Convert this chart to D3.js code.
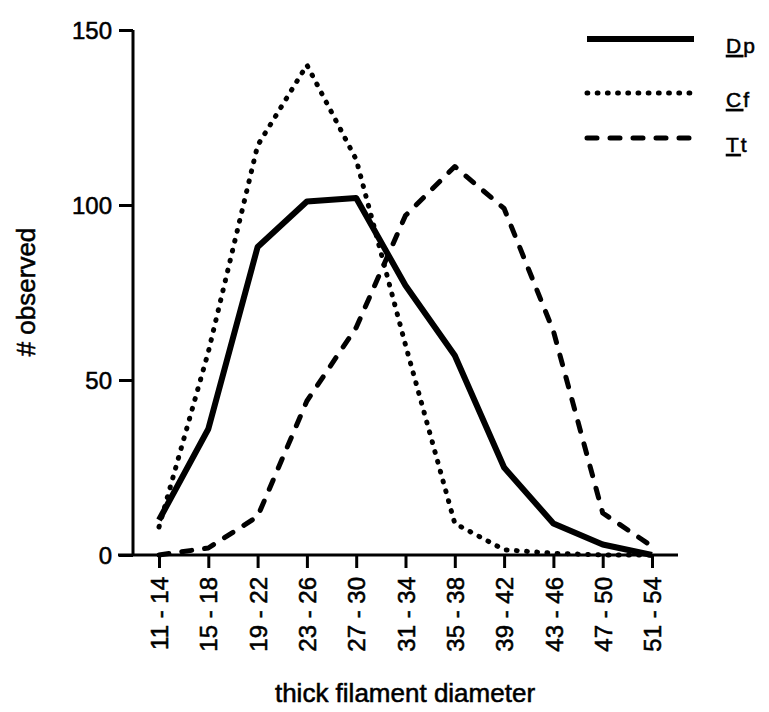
<!DOCTYPE html>
<html>
<head>
<meta charset="utf-8">
<script src="https://cdn.jsdelivr.net/npm/d3@7"></script>
<style>
  html, body { margin: 0; padding: 0; background: #fff; }
  svg { display: block; font-family: "Liberation Sans", Arial, Helvetica, sans-serif; }
  text { fill: #000; stroke: #000; stroke-width: 0.55px; }
</style>
</head>
<body>
<svg id="chart" width="769" height="712"></svg>
<script>
const categories = ["11 - 14","15 - 18","19 - 22","23 - 26","27 - 30","31 - 34","35 - 38","39 - 42","43 - 46","47 - 50","51 - 54"];
const dpValues = [10, 36, 88, 101, 102, 77, 57, 25, 9, 3, 0];
const cfValues = [8, 58, 117, 140, 113, 60, 9, 1.5, 0.5, 0, 0];
const ttValues = [0, 2, 11, 44, 65, 97, 111, 99, 64, 12, 2.5];
const yTicks = [0, 50, 100, 150];
const seriesNames = ["Dp", "Cf", "Tt"];

const series = [
  { name: seriesNames[0], values: dpValues, width: 6,   dash: null,      cap: "butt" },
  { name: seriesNames[1], values: cfValues, width: 5,   dash: "0.8 9.4", cap: "round" },
  { name: seriesNames[2], values: ttValues, width: 5,   dash: "10 13",   cap: "round" }
];

const svg = d3.select("#chart");
const x = d3.scalePoint().domain(categories).range([159, 652]);
const y = d3.scaleLinear().domain([0, 150]).range([555, 30]);

// axes
const xAxisG = svg.append("g").attr("transform", "translate(0,555)")
  .call(d3.axisBottom(x).tickSize(13).tickSizeOuter(0));
xAxisG.select(".domain").remove();
xAxisG.append("line").attr("x1", 118).attr("x2", 678).attr("y1", 0).attr("y2", 0)
  .attr("stroke", "#000").attr("stroke-width", 3);
xAxisG.selectAll(".tick line").attr("stroke", "#000").attr("stroke-width", 3);
xAxisG.selectAll(".tick text")
  .style("font-size", "24px")
  .attr("text-anchor", "end")
  .attr("transform", "rotate(-90)")
  .attr("x", -22)
  .attr("y", 0)
  .attr("dy", "0.36em");

const yAxisG = svg.append("g").attr("transform", "translate(133,0)")
  .call(d3.axisLeft(y).tickValues(yTicks).tickSize(14).tickSizeOuter(0));
yAxisG.select(".domain").remove();
yAxisG.append("line").attr("x1", 0).attr("x2", 0).attr("y1", y(150)).attr("y2", y(0))
  .attr("stroke", "#000").attr("stroke-width", 3);
yAxisG.selectAll(".tick line").attr("stroke", "#000").attr("stroke-width", 3);
yAxisG.selectAll(".tick text")
  .style("font-size", "24px")
  .attr("x", -21)
  .attr("dy", "0.36em");

// titles
svg.append("text").attr("x", 405).attr("y", 702).attr("text-anchor", "middle")
  .style("font-size", "26px").text("thick filament diameter");
svg.append("text").attr("transform", "translate(35,292) rotate(-90)").attr("text-anchor", "middle")
  .style("font-size", "26px").text("# observed");

// lines
const line = d3.line().x((d, i) => x(categories[i])).y(d => y(d));
series.forEach(s => {
  svg.append("path").datum(s.values)
    .attr("d", line)
    .attr("fill", "none")
    .attr("stroke", "#000")
    .attr("stroke-width", s.width)
    .attr("stroke-linejoin", "round")
    .attr("stroke-linecap", s.cap)
    .attr("stroke-dasharray", s.dash);
});

// legend
const legY = [39, 93, 138];
series.forEach((s, i) => {
  const g = svg.append("g").attr("transform", `translate(0,${legY[i]})`);
  g.append("line").attr("x1", 587).attr("x2", 694).attr("y1", 0).attr("y2", 0)
    .attr("stroke", "#000").attr("stroke-width", s.width)
    .attr("stroke-linecap", s.cap).attr("stroke-dasharray", s.dash);
  const t = g.append("text").attr("x", 726).attr("y", 14)
    .style("font-size", "21px").style("letter-spacing", "2px");
  t.append("tspan").style("text-decoration", "underline").text(s.name[0]);
  t.append("tspan").text(s.name.slice(1));
});
</script>
</body>
</html>
